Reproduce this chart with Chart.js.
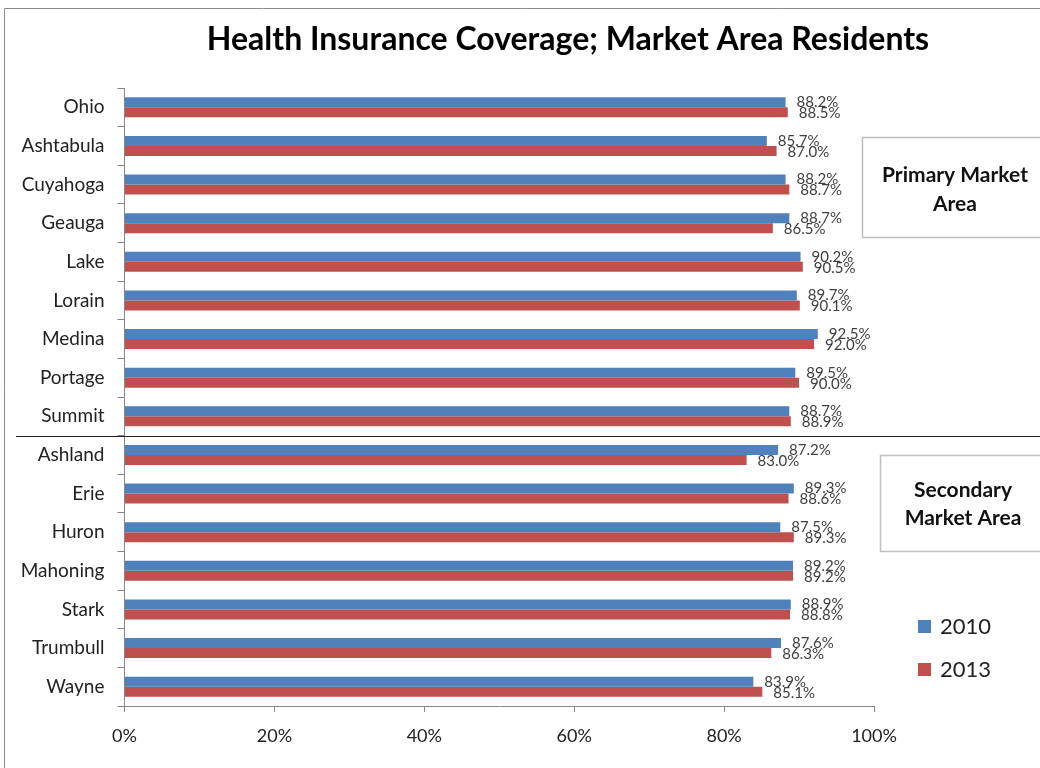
<!DOCTYPE html>
<html>
<head>
<meta charset="utf-8">
<script src="https://cdn.jsdelivr.net/npm/chart.js@4/dist/chart.umd.min.js"></script>
<style>
  html, body { margin: 0; padding: 0; background: #fff; }
  #wrap { width: 1040px; height: 768px; position: relative; }
</style>
</head>
<body>
<div id="wrap"><canvas id="chart" width="1040" height="768"></canvas></div>
<script>
// Data
const counties = ['Ohio', 'Ashtabula', 'Cuyahoga', 'Geauga', 'Lake', 'Lorain', 'Medina', 'Portage', 'Summit',
                  'Ashland', 'Erie', 'Huron', 'Mahoning', 'Stark', 'Trumbull', 'Wayne'];
const coverage2010 = [88.2, 85.7, 88.2, 88.7, 90.2, 89.7, 92.5, 89.5, 88.7, 87.2, 89.3, 87.5, 89.2, 88.9, 87.6, 83.9];
const coverage2013 = [88.5, 87.0, 88.7, 86.5, 90.5, 90.1, 92.0, 90.0, 88.9, 83.0, 88.6, 89.3, 89.2, 88.8, 86.3, 85.1];
const seriesLabels = ['2010', '2013'];
const primaryCount = 9; // first 9 rows are the primary market area
const chartTitle = 'Health Insurance Coverage; Market Area Residents';

const FONT = 'Lato, "Open Sans", sans-serif';
const blue = '#4F81BD';
const red = '#C0504D';

// title, value labels, separator line, area boxes and legend
const extras = {
    id: 'extras',
    beforeDraw(chart) {
        const ctx = chart.ctx;
        ctx.save();
        ctx.font = 'bold 32px ' + FONT;
        ctx.fillStyle = '#000';
        ctx.textAlign = 'center';
        ctx.textBaseline = 'middle';
        ctx.fillText(chartTitle, 568, 40);
        ctx.restore();
    },
    afterDatasetsDraw(chart) {
        const ctx = chart.ctx;
        const y = chart.scales.y;
        ctx.save();

        // value labels at the end of each bar
        ctx.font = '15px ' + FONT;
        ctx.fillStyle = '#404040';
        ctx.textAlign = 'left';
        ctx.textBaseline = 'middle';
        chart.data.datasets.forEach((ds, i) => {
            chart.getDatasetMeta(i).data.forEach((bar, j) => {
                ctx.fillText(ds.data[j].toFixed(1) + '%', bar.x + 11, bar.y + (i === 0 ? 0 : 1));
            });
        });

        // divider between primary and secondary areas
        const sepY = Math.round((y.getPixelForValue(primaryCount - 1) + y.getPixelForValue(primaryCount)) / 2) + 0.5;
        ctx.strokeStyle = '#222';
        ctx.lineWidth = 1;
        ctx.beginPath();
        ctx.moveTo(16, sepY);
        ctx.lineTo(1040, sepY);
        ctx.stroke();

        // area boxes
        ctx.strokeStyle = '#bfbfbf';
        ctx.fillStyle = '#fff';
        ctx.lineWidth = 1.5;
        ctx.fillRect(862, 137, 190, 100);
        ctx.strokeRect(862.5, 137.5, 190, 100);
        ctx.fillRect(880, 455, 170, 96);
        ctx.strokeRect(880.5, 455.5, 170, 96);
        ctx.fillStyle = '#111';
        ctx.font = 'bold 21px ' + FONT;
        ctx.textAlign = 'center';
        ctx.fillText('Primary Market', 955, 175);
        ctx.fillText('Area', 955, 204);
        ctx.fillText('Secondary', 963, 490);
        ctx.fillText('Market Area', 963, 518);

        // legend
        ctx.font = '22px ' + FONT;
        ctx.textAlign = 'left';
        chart.data.datasets.forEach((ds, i) => {
            const ly = 626 + i * 43;
            ctx.fillStyle = ds.backgroundColor;
            ctx.fillRect(918, ly - 6, 13, 13);
            ctx.fillStyle = '#222';
            ctx.fillText(ds.label, 940, ly + 1);
        });

        // outer frame
        ctx.strokeStyle = '#8c8c8c';
        ctx.lineWidth = 1;
        ctx.beginPath();
        ctx.moveTo(4.5, 768);
        ctx.lineTo(4.5, 8.5);
        ctx.lineTo(1040, 8.5);
        ctx.stroke();
        ctx.restore();
    }
};

new Chart(document.getElementById('chart'), {
    type: 'bar',
    data: {
        labels: counties,
        datasets: [
            { label: seriesLabels[0], data: coverage2010, backgroundColor: blue },
            { label: seriesLabels[1], data: coverage2013, backgroundColor: red }
        ]
    },
    options: {
        indexAxis: 'y',
        responsive: false,
        animation: false,
        events: [],
        categoryPercentage: 0.52,
        barPercentage: 1,
        layout: { padding: { left: 0, right: 166, top: 88, bottom: 0 } },
        plugins: {
            legend: { display: false },
            tooltip: { enabled: false },
            title: { display: false }
        },
        scales: {
            x: {
                min: 0,
                max: 100,
                ticks: {
                    stepSize: 20,
                    callback: v => v + '%',
                    color: '#222',
                    font: { family: FONT, size: 18 },
                    padding: 13
                },
                grid: { drawOnChartArea: false, tickLength: 6, color: '#868686' },
                border: { color: '#868686' },
                afterFit: s => { s.height = 62; }
            },
            y: {
                ticks: {
                    color: '#222',
                    font: { family: FONT, size: 19 },
                    padding: 13
                },
                grid: { drawOnChartArea: false, tickLength: 7, color: '#868686', offset: true },
                border: { color: '#868686' },
                afterFit: s => { s.width = 124.5; }
            }
        }
    },
    plugins: [extras]
});
</script>
</body>
</html>
